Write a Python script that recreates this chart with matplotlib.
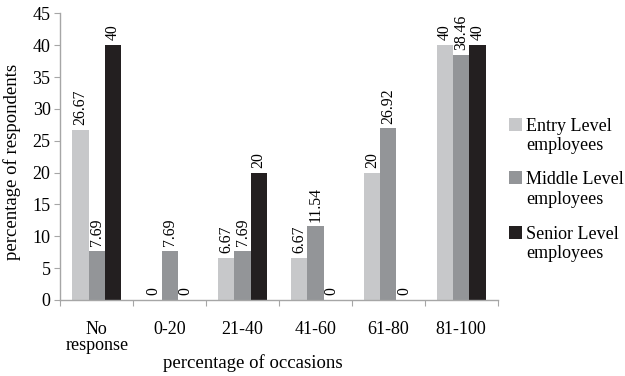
import numpy as np
import matplotlib
matplotlib.use("Agg")
import matplotlib.pyplot as plt
from matplotlib.patches import Rectangle

plt.rcParams['font.family'] = ['Liberation Serif', 'DejaVu Serif']
plt.rcParams['font.size'] = 13

# data
categories = ["No\nresponse", "0-20", "21-40", "41-60", "61-80", "81-100"]
series_names = ["Entry Level", "Middle Level", "Senior Level"]
entry_level = [26.67, 0, 6.67, 6.67, 20, 40]
middle_level = [7.69, 7.69, 7.69, 11.54, 26.92, 38.46]
senior_level = [40, 0, 20, 0, 0, 40]
y_ticks = [0, 5, 10, 15, 20, 25, 30, 35, 40, 45]

colors = ["#c7c8ca", "#939598", "#231f20"]
axis_grey = "#a6a6a6"

W, H = 625, 376
fig = plt.figure(figsize=(W / 100, H / 100), dpi=100)

# plot area in pixels -> figure coords
px_l, px_r, px_t, px_b = 60.3, 497.7, 13.3, 300
ax = fig.add_axes([px_l / W, 1 - px_b / H, (px_r - px_l) / W, (px_b - px_t) / H])

x = np.arange(len(categories))
bw = 0.222
for i, vals in enumerate([entry_level, middle_level, senior_level]):
    bars = ax.bar(x + (i - 1) * bw, vals, bw, color=colors[i])
    ax.bar_label(bars, labels=["%g" % v for v in vals], rotation=90, padding=3.5, fontsize=11.3)

ax.set_xlim(-0.5, len(categories) - 0.5)
ax.set_ylim(0, 45)
ax.set_yticks(y_ticks)

# category labels on minor ticks, separators on major ticks
ax.set_xticks(np.arange(len(categories) + 1) - 0.5)
ax.set_xticklabels([])
ax.set_xticks(x, minor=True)
ax.set_xticklabels(categories, minor=True, linespacing=0.95)
ax.tick_params(axis="x", which="major", length=4, color=axis_grey, direction="out")
ax.tick_params(axis="x", which="minor", length=0, pad=15, labelsize=13)
ax.tick_params(axis="y", length=4, color=axis_grey, pad=3, labelsize=13)

for s in ["top", "right"]:
    ax.spines[s].set_visible(False)
for s in ["left", "bottom"]:
    ax.spines[s].set_color(axis_grey)
    ax.spines[s].set_linewidth(1.0)

ax.set_xlabel("percentage of occasions", fontsize=13.5, va="baseline")
ax.xaxis.set_label_coords((253 - px_l) / (px_r - px_l), -(368 - px_b) / (px_b - px_t))
ax.set_ylabel("percentage of respondents", fontsize=13.5)
ax.yaxis.set_label_coords(-(px_l - 21.5) / (px_r - px_l), (px_b - 161.5) / (px_b - px_t))

# legend drawn by hand: square sits beside the first line of each entry
baselines = [131, 184, 239]
for name, c, bl in zip(series_names, colors, baselines):
    fig.add_artist(Rectangle((509 / W, 1 - bl / H), 13 / W, 13 / H,
                             transform=fig.transFigure, facecolor=c, edgecolor="none"))
    fig.text(526 / W, 1 - bl / H, name, ha="left", va="baseline", fontsize=13)
    fig.text(526 / W, 1 - (bl + 19.5) / H, "employees", ha="left", va="baseline", fontsize=13)

fig.savefig("out.png", dpi=100)
